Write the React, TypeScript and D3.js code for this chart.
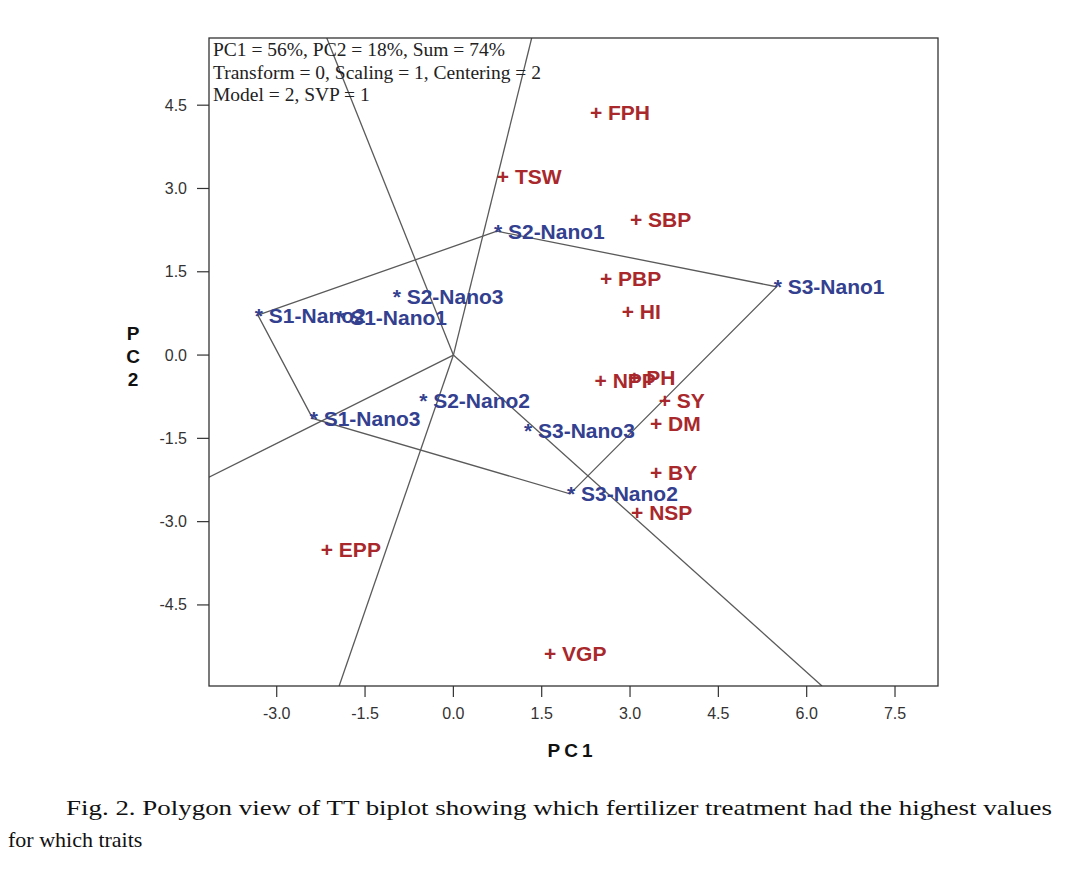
import React from "react";
import * as d3 from "d3";

const genotypeNames = ["S2-Nano1", "S3-Nano1", "S3-Nano2", "S1-Nano3", "S1-Nano2", "S1-Nano1", "S2-Nano3", "S2-Nano2", "S3-Nano3"];
const genotypePC1 = [0.74, 5.49, 1.98, -2.39, -3.32, -1.94, -0.98, -0.53, 1.25];
const genotypePC2 = [2.23, 1.23, -2.5, -1.14, 0.72, 0.67, 1.05, -0.81, -1.35];

const traitNames = ["FPH", "TSW", "SBP", "PBP", "HI", "NPP", "PH", "SY", "DM", "BY", "NSP", "EPP", "VGP"];
const traitPC1 = [2.42, 0.84, 3.1, 2.59, 2.96, 2.5, 3.07, 3.59, 3.44, 3.44, 3.12, -2.15, 1.64];
const traitPC2 = [4.36, 3.21, 2.45, 1.37, 0.79, -0.45, -0.4, -0.81, -1.23, -2.11, -2.83, -3.51, -5.37];

// polygon vertices (genotype names, in order)
const hullOrder = ["S2-Nano1", "S3-Nano1", "S3-Nano2", "S1-Nano3", "S1-Nano2"];
// rays from origin: end points (PC1, PC2) where they leave the plot
const rayPC1 = [-2.15, 1.33, -4.15, -1.94, 6.26];
const rayPC2 = [5.71, 5.71, -2.2, -5.96, -5.96];

const xTicks = [-3.0, -1.5, 0.0, 1.5, 3.0, 4.5, 6.0, 7.5];
const yTicks = [4.5, 3.0, 1.5, 0.0, -1.5, -3.0, -4.5];

const infoLines = [
  "PC1 = 56%, PC2 = 18%, Sum = 74%",
  "Transform = 0, Scaling = 1, Centering = 2",
  "Model = 2, SVP = 1",
];
const captionLine1 = "Fig. 2. Polygon view of TT biplot showing which fertilizer treatment had the highest values";
const captionLine2 = "for which traits";

const X_DOMAIN = [-4.15, 8.23];
const Y_DOMAIN = [-5.96, 5.71];

export default function App() {
  const W = 1079, H = 879;
  const left = 209, right = 938, top = 38, bottom = 686;
  const x = d3.scaleLinear().domain(X_DOMAIN).range([left, right]);
  const y = d3.scaleLinear().domain(Y_DOMAIN).range([bottom, top]);

  const blue = "#33408f";
  const red = "#a8282c";
  const lineCol = "#5a5a5a";
  const tickCol = "#333";

  const gIdx = (n: string) => genotypeNames.indexOf(n);
  const hullPts = hullOrder.map((n) => [x(genotypePC1[gIdx(n)]), y(genotypePC2[gIdx(n)])] as [number, number]);
  const hullPath = d3.line()(hullPts.concat([hullPts[0]])) || "";

  const labelFont = "Arial, 'Liberation Sans', sans-serif";
  const serif = "'Liberation Serif', 'Times New Roman', serif";

  return (
    <div style={{ position: "absolute", left: 0, top: 0 }}>
      <svg width={W} height={H} style={{ display: "block", background: "#fff" }}>
        <defs>
          <clipPath id="plotclip">
            <rect x={left} y={top} width={right - left} height={bottom - top} />
          </clipPath>
        </defs>
        {/* rays and polygon */}
        <g clipPath="url(#plotclip)" stroke={lineCol} strokeWidth={1.3} fill="none">
          {rayPC1.map((rx, i) => (
            <line key={i} x1={x(0)} y1={y(0)} x2={x(rx)} y2={y(rayPC2[i])} />
          ))}
          <path d={hullPath} />
        </g>
        {/* frame */}
        <rect x={left} y={top} width={right - left} height={bottom - top} fill="none" stroke="#333" strokeWidth={1.3} />
        {/* info text */}
        {infoLines.map((t, i) => (
          <text key={i} x={213} y={56 + i * 22.5} fontFamily={serif} fontSize={19.5} fill="#222">
            {t}
          </text>
        ))}
        {/* x axis ticks */}
        {xTicks.map((t) => (
          <g key={t}>
            <line x1={x(t)} x2={x(t)} y1={bottom} y2={bottom + 11} stroke={tickCol} strokeWidth={1.2} />
            <text x={x(t)} y={719} textAnchor="middle" fontFamily={labelFont} fontSize={16} fill={tickCol}>
              {t.toFixed(1)}
            </text>
          </g>
        ))}
        {yTicks.map((t) => (
          <g key={t}>
            <line x1={left - 12} x2={left} y1={y(t)} y2={y(t)} stroke={tickCol} strokeWidth={1.2} />
            <text x={187} y={y(t) + 5.5} textAnchor="end" fontFamily={labelFont} fontSize={16} fill={tickCol}>
              {t.toFixed(1)}
            </text>
          </g>
        ))}
        {/* axis titles */}
        <text x={572} y={757} textAnchor="middle" fontFamily={labelFont} fontWeight="bold" fontSize={19} letterSpacing={4} fill="#111">
          PC1
        </text>
        {["P", "C", "2"].map((c, i) => (
          <text key={c} x={133} y={340 + i * 23} textAnchor="middle" fontFamily={labelFont} fontWeight="bold" fontSize={19} fill="#111">
            {c}
          </text>
        ))}
        {/* traits */}
        {traitNames.map((n, i) => (
          <text key={n} x={x(traitPC1[i]) - 6} y={y(traitPC2[i]) + 7.5} fontFamily={labelFont} fontWeight="bold" fontSize={21} fill={red}>
            {"+ " + n}
          </text>
        ))}
        {/* genotypes */}
        {genotypeNames.map((n, i) => (
          <text key={n} x={x(genotypePC1[i]) - 3} y={y(genotypePC2[i]) + 7.5} fontFamily={labelFont} fontWeight="bold" fontSize={21} fill={blue}>
            {"* " + n}
          </text>
        ))}
        {/* caption */}
        <text x={66} y={815} fontFamily={serif} fontSize={22} fill="#111" textLength={986} lengthAdjust="spacingAndGlyphs">
          {captionLine1}
        </text>
        <text x={8} y={847} fontFamily={serif} fontSize={22} fill="#111">
          {captionLine2}
        </text>
      </svg>
    </div>
  );
}
